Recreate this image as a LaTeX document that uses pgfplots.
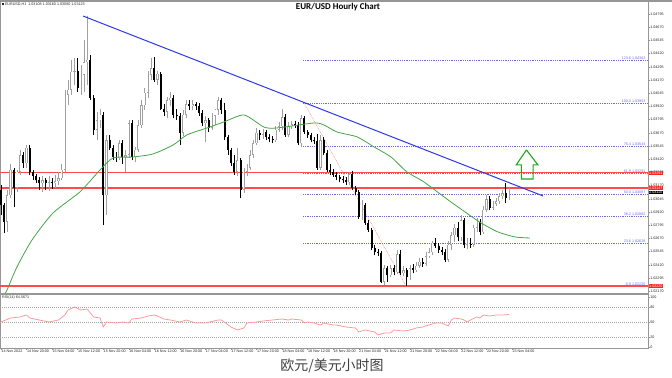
\documentclass[border=0pt]{standalone}
\usepackage{fontspec}
\setmainfont{Liberation Sans}
\newfontfamily\titlefont{Carlito}
\newfontfamily\cjk{Noto Sans CJK SC}
\usepackage{pgfplots}
\usepackage{pgfplotstable}
\pgfplotsset{compat=1.18}

\definecolor{bullc}{RGB}{160,160,160}
\definecolor{bullw}{RGB}{160,160,160}
\definecolor{maG}{RGB}{70,165,70}
\definecolor{trendB}{RGB}{45,55,235}
\definecolor{lvlR}{RGB}{255,75,75}
\definecolor{boxR}{RGB}{255,35,35}
\definecolor{fibB}{RGB}{105,105,255}
\definecolor{rsiR}{RGB}{255,150,150}
\definecolor{frameG}{RGB}{150,150,150}
\definecolor{arrG}{RGB}{25,170,25}
\newcommand{\mtf}{\fontsize{3.7}{4.2}\selectfont}

\pgfplotstableread{
i o h l c
0 1.0313 1.0318 1.0289 1.0299
1 1.0299 1.0301 1.0272 1.0283
2 1.0283 1.0313 1.0273 1.0308
3 1.0308 1.0337 1.0305 1.0332
4 1.0332 1.0334 1.0297 1.0315
5 1.0315 1.0332 1.0311 1.0330
6 1.0330 1.0351 1.0327 1.0346
7 1.0346 1.0349 1.0334 1.0338
8 1.0338 1.0355 1.0334 1.0353
9 1.0353 1.0355 1.0327 1.0330
10 1.0330 1.0332 1.0322 1.0326
11 1.0326 1.0328 1.0319 1.0322
12 1.0322 1.0325 1.0313 1.0319
13 1.0319 1.0326 1.0311 1.0322
14 1.0322 1.0324 1.0313 1.0319
15 1.0319 1.0326 1.0312 1.0320
16 1.0320 1.0324 1.0314 1.0319
17 1.0319 1.0327 1.0315 1.0321
18 1.0321 1.0330 1.0318 1.0324
19 1.0324 1.0337 1.0322 1.0332
20 1.0332 1.0408 1.0330 1.0403
21 1.0403 1.0417 1.0393 1.0408
22 1.0408 1.0436 1.0403 1.0425
23 1.0425 1.0438 1.0412 1.0426
24 1.0426 1.0438 1.0406 1.0409
25 1.0409 1.0431 1.0403 1.0422
26 1.0422 1.0455 1.0406 1.0434
27 1.0434 1.0478 1.0412 1.0436
28 1.0436 1.0441 1.0398 1.0400
29 1.0400 1.0403 1.0365 1.0370
30 1.0370 1.0387 1.0360 1.0379
31 1.0379 1.0390 1.0372 1.0384
32 1.0384 1.0387 1.0280 1.0308
33 1.0308 1.0365 1.0289 1.0360
34 1.0360 1.0365 1.0351 1.0353
35 1.0353 1.0355 1.0341 1.0344
36 1.0344 1.0349 1.0339 1.0343
37 1.0343 1.0360 1.0341 1.0357
38 1.0357 1.0360 1.0337 1.0344
39 1.0344 1.0351 1.0330 1.0346
40 1.0346 1.0379 1.0343 1.0376
41 1.0376 1.0379 1.0341 1.0344
42 1.0344 1.0354 1.0339 1.0351
43 1.0351 1.0379 1.0349 1.0374
44 1.0374 1.0398 1.0372 1.0393
45 1.0393 1.0409 1.0389 1.0405
46 1.0405 1.0426 1.0400 1.0422
47 1.0422 1.0438 1.0417 1.0428
48 1.0428 1.0439 1.0415 1.0417
49 1.0417 1.0426 1.0412 1.0423
50 1.0423 1.0425 1.0389 1.0390
51 1.0390 1.0394 1.0383 1.0387
52 1.0387 1.0401 1.0381 1.0398
53 1.0398 1.0406 1.0392 1.0400
54 1.0400 1.0403 1.0381 1.0384
55 1.0384 1.0390 1.0379 1.0383
56 1.0383 1.0386 1.0355 1.0367
57 1.0367 1.0389 1.0364 1.0384
58 1.0384 1.0398 1.0381 1.0394
59 1.0394 1.0398 1.0389 1.0392
60 1.0392 1.0398 1.0389 1.0394
61 1.0394 1.0396 1.0389 1.0392
62 1.0392 1.0395 1.0383 1.0386
63 1.0386 1.0389 1.0373 1.0376
64 1.0376 1.0383 1.0358 1.0379
65 1.0379 1.0381 1.0368 1.0372
66 1.0372 1.0386 1.0370 1.0383
67 1.0383 1.0390 1.0374 1.0389
68 1.0389 1.0401 1.0384 1.0398
69 1.0398 1.0400 1.0385 1.0389
70 1.0389 1.0395 1.0360 1.0363
71 1.0363 1.0365 1.0346 1.0351
72 1.0351 1.0353 1.0336 1.0338
73 1.0338 1.0346 1.0327 1.0330
74 1.0330 1.0353 1.0326 1.0341
75 1.0341 1.0343 1.0305 1.0313
76 1.0313 1.0334 1.0310 1.0330
77 1.0330 1.0337 1.0326 1.0334
78 1.0334 1.0351 1.0332 1.0346
79 1.0346 1.0360 1.0343 1.0357
80 1.0357 1.0372 1.0355 1.0367
81 1.0367 1.0370 1.0360 1.0365
82 1.0365 1.0371 1.0361 1.0368
83 1.0368 1.0370 1.0360 1.0363
84 1.0363 1.0366 1.0358 1.0361
85 1.0361 1.0364 1.0357 1.0360
86 1.0360 1.0373 1.0358 1.0370
87 1.0370 1.0377 1.0368 1.0373
88 1.0373 1.0390 1.0370 1.0382
89 1.0382 1.0385 1.0363 1.0365
90 1.0365 1.0377 1.0363 1.0373
91 1.0373 1.0378 1.0371 1.0375
92 1.0375 1.0378 1.0372 1.0374
93 1.0374 1.0377 1.0355 1.0357
94 1.0357 1.0384 1.0354 1.0381
95 1.0381 1.0383 1.0366 1.0368
96 1.0368 1.0370 1.0362 1.0365
97 1.0365 1.0367 1.0358 1.0360
98 1.0360 1.0363 1.0356 1.0359
99 1.0359 1.0366 1.0332 1.0334
100 1.0334 1.0365 1.0332 1.0360
101 1.0360 1.0363 1.0346 1.0348
102 1.0348 1.0351 1.0330 1.0332
103 1.0332 1.0337 1.0327 1.0330
104 1.0330 1.0333 1.0325 1.0327
105 1.0327 1.0330 1.0322 1.0325
106 1.0325 1.0327 1.0320 1.0323
107 1.0323 1.0326 1.0319 1.0322
108 1.0322 1.0325 1.0318 1.0320
109 1.0320 1.0330 1.0318 1.0328
110 1.0328 1.0331 1.0313 1.0315
111 1.0315 1.0317 1.0308 1.0311
112 1.0311 1.0313 1.0285 1.0287
113 1.0287 1.0303 1.0284 1.0299
114 1.0299 1.0301 1.0280 1.0282
115 1.0282 1.0284 1.0273 1.0275
116 1.0275 1.0277 1.0256 1.0258
117 1.0258 1.0261 1.0251 1.0254
118 1.0254 1.0257 1.0250 1.0253
119 1.0253 1.0255 1.0225 1.0226
120 1.0226 1.0242 1.0223 1.0239
121 1.0239 1.0241 1.0226 1.0232
122 1.0232 1.0242 1.0230 1.0239
123 1.0239 1.0242 1.0232 1.0235
124 1.0235 1.0256 1.0233 1.0252
125 1.0252 1.0256 1.0232 1.0234
126 1.0234 1.0241 1.0231 1.0237
127 1.0237 1.0239 1.0222 1.0230
128 1.0230 1.0242 1.0228 1.0239
129 1.0239 1.0243 1.0234 1.0237
130 1.0237 1.0245 1.0235 1.0241
131 1.0241 1.0248 1.0239 1.0245
132 1.0245 1.0248 1.0240 1.0243
133 1.0243 1.0254 1.0241 1.0250
134 1.0250 1.0258 1.0248 1.0254
135 1.0254 1.0265 1.0251 1.0263
136 1.0263 1.0267 1.0258 1.0260
137 1.0260 1.0263 1.0253 1.0256
138 1.0256 1.0259 1.0251 1.0254
139 1.0254 1.0257 1.0245 1.0247
140 1.0247 1.0265 1.0245 1.0261
141 1.0261 1.0273 1.0256 1.0270
142 1.0270 1.0281 1.0264 1.0277
143 1.0277 1.0283 1.0265 1.0268
144 1.0268 1.0289 1.0265 1.0284
145 1.0284 1.0286 1.0258 1.0261
146 1.0261 1.0267 1.0257 1.0262
147 1.0262 1.0267 1.0258 1.0261
148 1.0261 1.0280 1.0259 1.0277
149 1.0277 1.0286 1.0273 1.0283
150 1.0283 1.0285 1.0270 1.0273
151 1.0273 1.0298 1.0271 1.0294
152 1.0294 1.0308 1.0292 1.0304
153 1.0304 1.0307 1.0294 1.0296
154 1.0296 1.0302 1.0294 1.0300
155 1.0300 1.0305 1.0298 1.0302
156 1.0302 1.0310 1.0300 1.0307
157 1.0307 1.0313 1.0304 1.0310
158 1.0310 1.0319 1.0301 1.0305
159 1.0305 1.0315 1.0303 1.0311
}\candles

\begin{document}
\begin{tikzpicture}
\path[use as bounding box] (0,0) rectangle (672bp,378bp);

\begin{axis}[
  at={(0bp,85bp)}, anchor=south west, scale only axis,
  width=648bp, height=292.7bp,
  xmin=-0.313, xmax=202.56, ymin=1.02153, ymax=1.04925,
  xtick=\empty,
  ytick={1.0217,1.02295,1.0242,1.02545,1.0267,1.02795,1.0292,1.03045,1.0317,1.03295,1.0342,1.03545,1.0367,1.03795,1.0392,1.04045,1.0417,1.04295,1.0442,1.04545,1.0467,1.04795,1.0492},
  yticklabels={1.02170,1.02295,1.02420,1.02545,1.02670,1.02795,1.02920,1.03045,1.03170,1.03295,1.03420,1.03545,1.03670,1.03795,1.03920,1.04045,1.04170,1.04295,1.04420,1.04545,1.04670,1.04795,1.04920},
  ytick pos=right, yticklabel pos=right,
  tick align=outside, major tick length=1.5bp,
  tick style={frameG, line width=0.4bp},
  axis line style={frameG, line width=0.6bp},
  tick label style={font=\mtf, text=black!85, inner sep=0.6bp},
  clip mode=individual,
  candle/.style={draw=none, no markers, forget plot,
    error bars/y dir=plus, error bars/y explicit, error bars/error mark=none},
]
% Fibonacci levels
\pgfplotsinvokeforeach{1.04362,1.03953,1.03544,1.03291,1.03087,1.02882,1.02629,1.02220}{
  \addplot[fibB, line width=0.45bp, dash pattern=on 0.9bp off 0.9bp] coordinates {(94.55,#1) (202.56,#1)};
}
% red horizontal levels
\addplot[lvlR, line width=1.3bp] coordinates {(-0.313,1.03291) (202.56,1.03291)};
\addplot[lvlR, line width=1.3bp] coordinates {(-0.313,1.03147) (202.56,1.03147)};
\addplot[lvlR, line width=1.3bp] coordinates {(-0.313,1.02220) (202.56,1.02220)};
% fib base line
\addplot[lvlR!80, line width=0.4bp, dash pattern=on 0.8bp off 0.8bp] coordinates {(94.9,1.03953) (126.8,1.02220)};

% wicks
\addplot[candle, restrict expr to domain={\thisrow{c}-\thisrow{o}}{0:1},
  error bars/error bar style={draw=bullw, line width=0.5bp}]
  table[x=i, y=l, y error expr=\thisrow{h}-\thisrow{l}] {\candles};
\addplot[candle, restrict expr to domain={\thisrow{c}-\thisrow{o}}{-1:-0.00001},
  error bars/error bar style={draw=black, line width=0.5bp}]
  table[x=i, y=l, y error expr=\thisrow{h}-\thisrow{l}] {\candles};
% bodies: bull (hollow) and bear (filled)
\addplot[candle, restrict expr to domain={\thisrow{c}-\thisrow{o}}{0:1},
  error bars/error bar style={draw=bullc, line width=2.2bp}]
  table[x=i, y=o, y error expr={max(\thisrow{c}-\thisrow{o},0.00005)}] {\candles};
\addplot[candle, restrict expr to domain={\thisrow{c}-\thisrow{o}}{0.00016:1},
  error bars/error bar style={draw=white, line width=1.1bp}]
  table[x=i, y expr=\thisrow{o}+0.00005, y error expr={\thisrow{c}-\thisrow{o}-0.0001}] {\candles};
\addplot[candle, restrict expr to domain={\thisrow{c}-\thisrow{o}}{-1:-0.00001},
  error bars/error bar style={draw=black, line width=2.0bp}]
  table[x=i, y=c, y error expr={\thisrow{o}-\thisrow{c}}] {\candles};

% moving average
\addplot[maG, line width=0.8bp, smooth, tension=0.4] coordinates {
(1.0,1.02135) (1.9,1.02182) (5.0,1.02400) (9.7,1.02655) (16.3,1.02911) (24.7,1.03110)
(31.0,1.03318) (35.1,1.03432) (41.3,1.03441) (47.6,1.03470) (53.9,1.03555) (58.2,1.03650)
(64.5,1.03716) (69.8,1.03773) (76.1,1.03839) (82.3,1.03725) (86.4,1.03716) (98.0,1.03763)
(101.1,1.03744) (105.2,1.03678) (111.5,1.03631) (116.8,1.03536) (122.1,1.03441) (127.1,1.03299)
(132.4,1.03205) (140.0,1.03034) (145.3,1.02920) (150.3,1.02816) (155.6,1.02731) (160.9,1.02684) (165.6,1.02674)};
% trend line
\addplot[trendB, line width=1.0bp] coordinates {(25.7,1.04776) (169.7,1.03072)};
% up arrow
\addplot[arrG, line width=1.1bp] coordinates {
(164.5,1.03508) (168.1,1.03366) (166.6,1.03366) (166.6,1.03233) (162.9,1.03233) (162.9,1.03366) (161.3,1.03366) (164.5,1.03508)};

% fib labels
\foreach \lv/\tx in {1.04362/123.6 1.04362, 1.03953/100.0 1.03953, 1.03544/76.4 1.03544, 1.03291/61.8 1.03291, 1.03087/50.0 1.03087, 1.02882/38.2 1.02882, 1.02629/23.6 1.02629, 1.02220/0.0 1.02220}{
  \edef\temp{\noexpand\node[anchor=south east, font=\noexpand\mtf, text=fibB, inner sep=0.3bp] at (axis cs:201.9,\lv) {\tx};}
  \temp
}
% price boxes
\node[anchor=west, fill=boxR, text=white, font=\mtf, inner sep=0.5bp, xshift=0.5bp] at (axis cs:202.56,1.03291) {1.03291};
\node[anchor=west, fill=boxR, text=white, font=\mtf, inner sep=0.5bp, xshift=0.5bp] at (axis cs:202.56,1.03147) {1.03147};
\node[anchor=west, fill=black, text=white, font=\mtf, inner sep=0.5bp, xshift=0.5bp] at (axis cs:202.56,1.03105) {1.03110};
\node[anchor=west, fill=boxR, text=white, font=\mtf, inner sep=0.5bp, xshift=0.5bp] at (axis cs:202.56,1.02220) {1.02220};
\end{axis}

\begin{axis}[
  at={(0bp,30bp)}, anchor=south west, scale only axis,
  width=648bp, height=53.5bp,
  xmin=-0.313, xmax=202.56, ymin=-2, ymax=105,
  xtick={0,8,...,160},
  xticklabels={14 Nov 2022,14 Nov 20:00,15 Nov 04:00,15 Nov 12:00,15 Nov 20:00,16 Nov 04:00,16 Nov 12:00,16 Nov 20:00,17 Nov 04:00,17 Nov 12:00,17 Nov 20:00,18 Nov 04:00,18 Nov 12:00,18 Nov 20:00,21 Nov 04:00,21 Nov 12:00,21 Nov 20:00,22 Nov 04:00,22 Nov 12:00,22 Nov 20:00,23 Nov 04:00},
  xtick pos=bottom, ytick pos=right, yticklabel pos=right,
  ytick={0,20,50,80,100}, yticklabels={0,20,50,80,100},
  tick align=outside, major tick length=1.5bp,
  tick style={frameG, line width=0.4bp},
  axis line style={frameG, line width=0.6bp},
  tick label style={font=\mtf, text=black!85, inner sep=0.6bp},
  xticklabel style={anchor=north west, xshift=-0.3bp},
  clip mode=individual,
]
\pgfplotsinvokeforeach{80,50,20}{
  \addplot[black!35, line width=0.35bp, dash pattern=on 1bp off 1bp] coordinates {(-0.313,#1) (202.56,#1)};
}
\addplot[rsiR, line width=0.75bp] coordinates {
(0,50) (3,58) (6,60) (8,64) (9,58) (12,54) (15,50) (18,54) (20,64) (21,74) (23,80) (25,74) (27,76) (28,68) (29,60) (31,58) (32,40) (33,50) (36,48) (38,50) (40,48) (41,56) (44,58) (46,62) (48,64) (49,62) (51,56) (53,54) (56,50) (58,54) (61,48) (64,48) (68,54) (69,54) (72,40) (74,34) (76,38) (77,48) (80,50) (82,52) (85,54) (88,56) (90,54) (91,56) (94,54) (95,48) (96,50) (98,48) (100,44) (101,48) (104,44) (105,44) (108,40) (111,38) (112,30) (114,34) (117,30) (118,24) (120,28) (122,28) (123,34) (126,32) (128,34) (130,38) (132,40) (134,44) (136,48) (138,48) (140,42) (141,54) (142,58) (144,56) (145,54) (146,50) (147,54) (149,60) (150,58) (151,64) (153,62) (155,64) (157,64) (159,65)};
\end{axis}

% frame accents
\draw[frameG, line width=1.6bp] (0,377.2bp) -- (672bp,377.2bp);
\draw[frameG, line width=1.3bp] (0,84.6bp) -- (648bp,84.6bp);

% texts
\node[anchor=west, font=\mtf, inner sep=0, text=black!85] at (2bp,374bp) {\rule{1.8bp}{1.8bp}\ EURUSD,H1\ \ 1.03108 1.03160 1.03080 1.03123};
\node[font=\titlefont\bfseries\fontsize{9}{10}\selectfont, inner sep=0] at (338bp,371bp) {EUR/USD Hourly Chart};
\node[anchor=west, font=\mtf, inner sep=0, text=black!85] at (2bp,80bp) {RSI(14) 64.5671};
\node[font=\cjk\fontsize{14}{16}\selectfont, text=black!75, inner sep=0] at (332bp,12bp) {欧元/美元小时图};
\end{tikzpicture}
\end{document}
